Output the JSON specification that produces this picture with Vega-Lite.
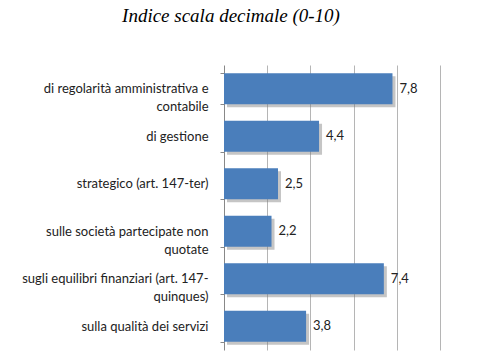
{
  "$schema": "https://vega.github.io/schema/vega-lite/v6.json",
  "width": 216,
  "height": 285,
  "autosize": {"type": "none"},
  "padding": {"left": 224, "top": 65, "right": 54, "bottom": 12},
  "background": "white",
  "config": {
    "locale": {"number": {"decimal": ",", "thousands": ".", "grouping": [3], "currency": ["", " €"]}},
    "view": {"stroke": null}
  },
  "title": {
    "text": "Indice scala decimale (0-10)",
    "font": "Liberation Serif",
    "fontStyle": "italic",
    "fontWeight": "normal",
    "fontSize": 19,
    "color": "#000000",
    "anchor": "middle",
    "dx": -101,
    "offset": 33
  },
  "data": {
    "values": [
      {"cat": "di regolarità amministrativa e|contabile", "v": 7.8},
      {"cat": "di gestione", "v": 4.4},
      {"cat": "strategico (art. 147-ter)", "v": 2.5},
      {"cat": "sulle società partecipate non|quotate", "v": 2.2},
      {"cat": "sugli equilibri finanziari (art. 147-|quinques)", "v": 7.4},
      {"cat": "sulla qualità dei servizi", "v": 3.8}
    ]
  },
  "encoding": {
    "y": {
      "field": "cat",
      "type": "nominal",
      "sort": null,
      "scale": {"paddingInner": 0.35, "paddingOuter": 0.175},
      "axis": {
        "title": null,
        "labelExpr": "split(datum.label, '|')",
        "labelFont": "Lato",
        "labelFontSize": 13,
        "labelColor": "#222222",
        "labelLineHeight": 18,
        "labelLimit": 230,
        "labelPadding": 12,
        "tickBand": "extent",
        "tickSize": 4,
        "tickColor": "#888888",
        "domainColor": "#888888",
        "grid": false
      }
    },
    "x": {
      "field": "v",
      "type": "quantitative",
      "scale": {"domain": [0, 10], "nice": false},
      "axis": {
        "title": null,
        "labels": false,
        "ticks": false,
        "domain": false,
        "values": [2, 4, 6, 8, 10],
        "grid": true,
        "gridColor": "#b5b5b5",
        "gridWidth": 1
      }
    }
  },
  "layer": [
    {
      "mark": {"type": "bar", "color": "#7f7f7f", "opacity": 0.45, "xOffset": 3, "x2Offset": 3, "yOffset": 3, "y2Offset": 3}
    },
    {
      "mark": {"type": "bar", "color": "#4a7ebb"}
    },
    {
      "mark": {"type": "text", "align": "left", "dx": 7, "font": "Lato", "fontSize": 13, "color": "#222222"},
      "encoding": {"text": {"field": "v", "type": "quantitative", "format": ".1f"}}
    }
  ]
}
